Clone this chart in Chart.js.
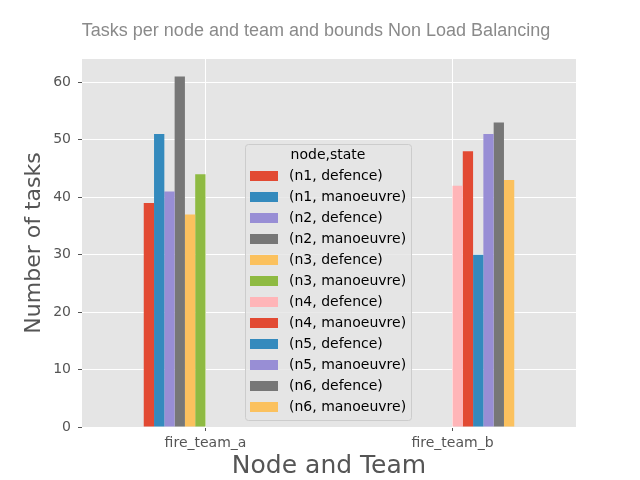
<!DOCTYPE html>
<html>
<head>
<meta charset="utf-8">
<script src="https://cdn.jsdelivr.net/npm/chart.js@4/dist/chart.umd.min.js"></script>
<style>
  html, body { margin: 0; padding: 0; background: #fff; }
  #wrap { width: 640px; height: 480px; }
</style>
</head>
<body>
<div id="wrap"><canvas id="tasksChart" width="640" height="480"></canvas></div>
<script>
const teams = ['fire_team_a', 'fire_team_b'];
const seriesLabels = [
  '(n1, defence)', '(n1, manoeuvre)', '(n2, defence)', '(n2, manoeuvre)',
  '(n3, defence)', '(n3, manoeuvre)', '(n4, defence)', '(n4, manoeuvre)',
  '(n5, defence)', '(n5, manoeuvre)', '(n6, defence)', '(n6, manoeuvre)'
];
// one value per team for each series (null = no bar)
const teamAValues = [39, 51, 41, 61, 37, 44, null, null, null, null, null, null];
const teamBValues = [null, null, null, null, null, null, 42, 48, 30, 51, 53, 43];
const yTicks = [0, 10, 20, 30, 40, 50, 60];

const palette = ['#E24A33','#348ABD','#988ED5','#777777','#FBC15E','#8EBA42','#FFB5B8'];

const datasets = seriesLabels.map((label, i) => ({
  label,
  data: [teamAValues[i], teamBValues[i]],
  backgroundColor: palette[i % palette.length],
  borderWidth: 0,
  categoryPercentage: 0.5,
  barPercentage: 1.0,
}));

// title + matplotlib-style legend drawn inside the plot
const overlay = {
  id: 'overlay',
  afterDraw(chart) {
    const ctx = chart.ctx;
    ctx.save();
    ctx.fillStyle = '#8a8a8a';
    ctx.font = '18px "Liberation Sans", Arial, sans-serif';
    ctx.textAlign = 'center';
    ctx.textBaseline = 'middle';
    ctx.fillText('Tasks per node and team and bounds Non Load Balancing', 316, 31);

    const x0 = 245, y0 = 144, w = 166, h = 276;
    ctx.fillStyle = 'rgba(229,229,229,0.8)';
    ctx.strokeStyle = '#cccccc';
    ctx.lineWidth = 1;
    ctx.beginPath();
    ctx.roundRect(x0 + 0.5, y0 + 0.5, w, h, 3);
    ctx.fill();
    ctx.stroke();
    ctx.fillStyle = '#000';
    ctx.font = '14px "DejaVu Sans", sans-serif';
    ctx.fillText('node,state', 328, 155);
    ctx.textAlign = 'left';
    chart.data.datasets.forEach((ds, i) => {
      const y = 176 + i * 21;
      ctx.fillStyle = ds.backgroundColor;
      ctx.fillRect(250, y - 5, 28, 10);
      ctx.fillStyle = '#000';
      ctx.fillText(ds.label, 289, y);
    });
    ctx.restore();
  }
};

const plotBg = {
  id: 'plotBg',
  beforeDraw(chart) {
    const a = chart.chartArea;
    chart.ctx.save();
    chart.ctx.fillStyle = '#E5E5E5';
    chart.ctx.fillRect(a.left, a.top, a.right - a.left, a.bottom - a.top);
    chart.ctx.restore();
  }
};

new Chart(document.getElementById('tasksChart'), {
  type: 'bar',
  data: { labels: teams, datasets },
  plugins: [plotBg, overlay],
  options: {
    responsive: false,
    animation: false,
    layout: { padding: { top: 59, right: 64, left: 0, bottom: 0 } },
    plugins: { legend: { display: false }, title: { display: false }, tooltip: { enabled: false } },
    scales: {
      x: {
        grid: { color: '#ffffff', lineWidth: 1, offset: false, tickColor: '#555555', tickLength: 4 },
        border: { display: false },
        ticks: { color: '#555555', font: { size: 14, family: '"DejaVu Sans", sans-serif' }, padding: 4 },
        title: { display: true, text: 'Node and Team', color: '#555555', font: { size: 25, lineHeight: 1.1, family: '"DejaVu Sans", sans-serif' }, padding: { top: 0, bottom: 0 } },
        afterFit(scale) { scale.height = 53; },
      },
      y: {
        min: 0,
        max: 64.05,
        afterBuildTicks(scale) { scale.ticks = yTicks.map(v => ({ value: v })); },
        grid: { color: '#ffffff', lineWidth: 1, tickColor: '#555555', tickLength: 4 },
        border: { display: false },
        ticks: { color: '#555555', font: { size: 14, family: '"DejaVu Sans", sans-serif' }, padding: 7 },
        title: { display: true, text: 'Number of tasks', color: '#555555', font: { size: 22, family: '"DejaVu Sans", sans-serif' }, padding: { top: 21, bottom: 0 } },
        afterFit(scale) { scale.width = 82; },
      }
    }
  }
});
</script>
</body>
</html>
